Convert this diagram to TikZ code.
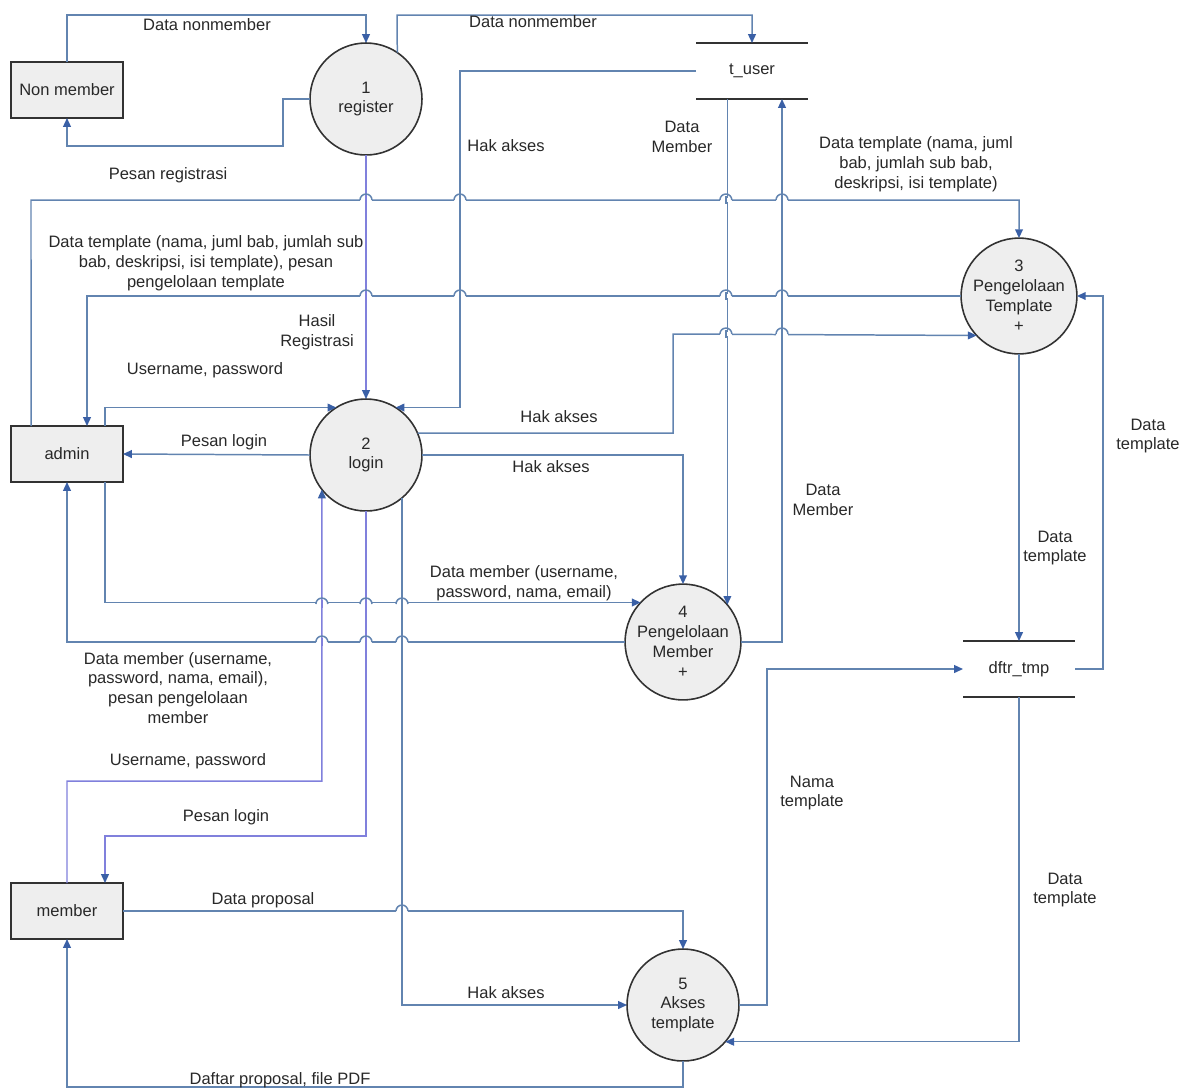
\documentclass[tikz,border=0pt]{standalone}
\usepackage{fontspec}
\setmainfont{Liberation Sans}
\usetikzlibrary{arrows.meta,calc}

\definecolor{flowc}{RGB}{98,132,176}
\definecolor{purc}{RGB}{128,128,220}
\definecolor{tipc}{RGB}{58,96,166}
\definecolor{boxfill}{RGB}{238,238,238}
\definecolor{edge}{RGB}{50,50,50}
\definecolor{txt}{RGB}{40,40,40}

\tikzset{
  entity/.style={draw=edge, line width=1.3pt, fill=boxfill, minimum width=2.24cm, minimum height=1.12cm, inner sep=0pt, outer sep=0pt, text=txt},
  proc/.style={circle, draw=edge, line width=0.9pt, fill=boxfill, minimum size=2.24cm, inner sep=0pt, outer sep=0pt, align=center, text=txt},
  store/.style={minimum width=2.24cm, minimum height=1.12cm, inner sep=0pt, outer sep=0pt, text=txt},
  flow/.style={draw=flowc, line width=0.85pt, -{Triangle[length=5pt,width=4.4pt,color=tipc]}},
  flowp/.style={flow, draw=purc},
  lbl/.style={align=center, text=txt, inner sep=0pt}
}

% line jump over a crossing
\newcommand{\hop}[3][flowc]{%
  \fill[white] (#2-6,#3-1.6) rectangle (#2+6,#3+1.6);
  \draw[color=#1, line width=0.85pt] (#2,#3-4) -- (#2,#3+4);
  \draw[color=flowc, line width=0.85pt] (#2-6,#3) arc[start angle=180, end angle=0, radius=3.4pt];
}

\begin{document}
\begin{tikzpicture}[x=0.02cm, y=-0.02cm, font=\fontsize{9.4}{11.3}\selectfont]
\useasboundingbox (0,0) rectangle (1183,1089);

% External entities
\node[entity] (nm) at (67,90) {Non member};
\node[entity] (admin) at (67,454) {admin};
\node[entity] (member) at (67,911) {member};

% Processes
\node[proc] (reg) at (366,99) {1\\register};
\node[proc] (login) at (366,455) {2\\login};
\node[proc] (c3) at (1019,296) {3\\Pengelolaan\\Template\\+};
\node[proc] (c4) at (683,642) {4\\Pengelolaan\\Member\\+};
\node[proc] (c5) at (683,1005) {5\\Akses\\template};

% Data stores
\node[store] (tuser) at (752,71) {t\_user};
\node[store] (dftr) at (1019,669) {dftr\_tmp};
\foreach \s in {tuser,dftr}
  \draw[edge, line width=1.2pt] (\s.north west) -- (\s.north east) (\s.south west) -- (\s.south east);

% Flows
\draw[flow] (nm.north) -- (67,15) -| (reg.north);
\draw[flow] (reg.west) -| (283,146) -| (nm.south);
\draw[flow] (reg.56) -- (397,15) -| (tuser.north);
\draw[flow] (tuser.west) -- (460,71) |- (login.58);
\draw[flow] (tuser.south -| c4.40) -- (c4.40);
\draw[flow] (c4.east) -| ($(tuser.south)+(30,0)$);
\draw[flow] ($(admin.north west)+(20,0)$) -- (31,200) -| (c3.north);
\draw[flow] (c3.west) -| ($(admin.north)+(20,0)$);
\draw[flowp] (reg.south) -- (login.north);
\draw[flow] ($(admin.north)+(38,0)$) |- (login.122);
\draw[flow] (login.west) -- (admin.east);
\draw[flow] (login.23) -| (673,334) -- (c3.223);
\draw[flow] (login.east) -| (c4.north);
\draw[flow] ($(admin.south)+(38,0)$) |- (c4.137);
\draw[flow] (c4.west) -| (admin.south);
\draw[flowp] (member.north) |- (321.9,781) -- (login.218);
\draw[flowp] (login.south) -- (366,836) -| ($(member.north)+(38,0)$);
\draw[flow] (login.-50) |- (c5.west);
\draw[flow] (member.east) -| (c5.north);
\draw[flow] (c5.south) -- (683,1087) -| (member.south);
\draw[flow] (c5.east) -- (767,1005) |- (dftr.west);
\draw[flow] (dftr.south) |- (c5.-41);
\draw[flow] (c3.south) -- (dftr.north);
\draw[flow] (dftr.east) -- (1103,669) |- (c3.east);

% Jumps
\foreach \hx/\hy/\hc in {366/200/purc, 460/200/flowc, 725.9/200/flowc, 782/200/flowc,
  366/296/purc, 460/296/flowc, 725.9/296/flowc, 782/296/flowc,
  725.9/334/flowc, 782/334/flowc,
  321.9/604/purc, 366/604/purc, 402/604/flowc,
  321.9/642/purc, 366/642/purc, 402/642/flowc,
  402/911/flowc}
  \hop[\hc]{\hx}{\hy};

% Flow labels
\node[lbl] (l1) at (207,25) {Data nonmember};
\node[lbl] (l2) at (533,22) {Data nonmember};
\node[lbl] (l3) at (168,175) {Pesan registrasi};
\node[lbl] (l4) at (506,146) {Hak akses};
\node[lbl] (l5) at (682,137) {Data\\Member};
\node[lbl] (l6) at (916,164) {Data template (nama, juml\\bab, jumlah sub bab,\\deskripsi, isi template)};
\node[lbl] (l7) at (206,263) {Data template (nama, juml bab, jumlah sub\\bab, deskripsi, isi template), pesan\\pengelolaan template};
\node[lbl] (l8) at (317,332) {Hasil\\Registrasi};
\node[lbl] (l9) at (205,370) {Username, password};
\node[lbl] (l10) at (224,442) {Pesan login};
\node[lbl] (l11) at (559,417) {Hak akses};
\node[lbl] (l12) at (551,467) {Hak akses};
\node[lbl] (l13) at (823,500) {Data\\Member};
\node[lbl] (l14) at (1148,436) {Data\\template};
\node[lbl] (l15) at (1055,548) {Data\\template};
\node[lbl] (l16) at (524,583) {Data member (username,\\password, nama, email)};
\node[lbl] (l17) at (178,688) {Data member (username,\\password, nama, email),\\pesan pengelolaan\\member};
\node[lbl] (l18) at (188,761) {Username, password};
\node[lbl] (l19) at (812,793) {Nama\\template};
\node[lbl] (l20) at (226,817) {Pesan login};
\node[lbl] (l21) at (1065,890) {Data\\template};
\node[lbl] (l22) at (263,900) {Data proposal};
\node[lbl] (l23) at (506,993) {Hak akses};
\node[lbl] (l24) at (280,1080) {Daftar proposal, file PDF};

\end{tikzpicture}
\end{document}
